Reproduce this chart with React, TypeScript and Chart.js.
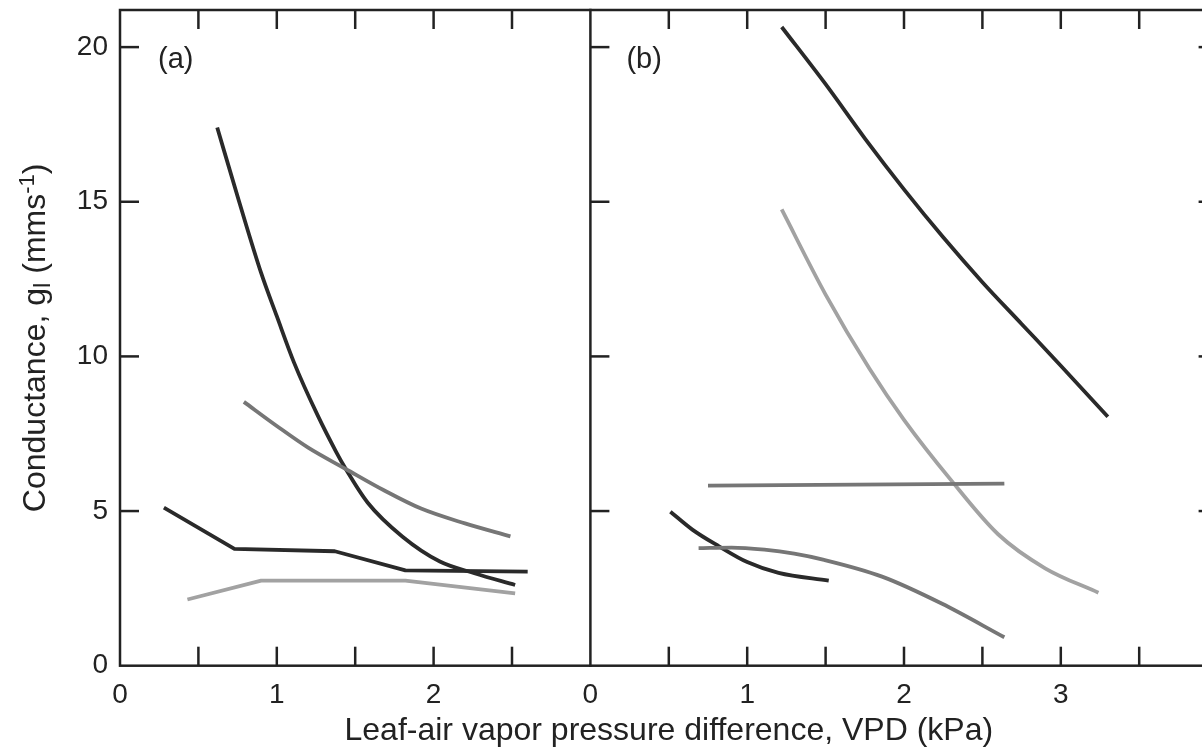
import { useEffect, useRef } from 'react';
import { Chart, registerables } from 'chart.js';

Chart.register(...registerables);

const FONT = "'Liberation Sans', Arial, Helvetica, sans-serif";
const INK = '#222222';
const DARK = '#2a2a2a';
const MID = '#767676';
const LIGHT = '#a2a2a2';

// Panel (b) is drawn on the same VPD axis, shifted right by this amount
const PANEL_B_OFFSET = 3;
const X_MAX = 7;
const Y_MAX = 21.2;

// ---- Panel (a) ----
const a1X = [0.62, 0.76, 0.9, 1.0, 1.11, 1.26, 1.38, 1.44, 1.58, 1.8, 2.04, 2.26, 2.52];
const a1Y = [17.4, 15.0, 12.7, 11.3, 9.8, 8.1, 6.9, 6.36, 5.27, 4.18, 3.37, 2.99, 2.61];

const a2X = [0.79, 1.0, 1.2, 1.44, 1.68, 1.92, 2.2, 2.49];
const a2Y = [8.53, 7.75, 7.05, 6.36, 5.68, 5.08, 4.6, 4.18];

const a3X = [0.28, 0.73, 1.37, 1.82, 2.6];
const a3Y = [5.11, 3.78, 3.7, 3.08, 3.04];

const a4X = [0.43, 0.9, 1.82, 2.52];
const a4Y = [2.14, 2.75, 2.75, 2.34];

// ---- Panel (b) ----
const b1X = [1.22, 1.5, 1.75, 2.0, 2.25, 2.5, 2.75, 3.0, 3.3];
const b1Y = [20.65, 18.8, 17.05, 15.4, 13.85, 12.4, 11.05, 9.7, 8.05];

const b2X = [1.22, 1.5, 1.78, 2.0, 2.3, 2.6, 2.9, 3.24];
const b2Y = [14.75, 12.0, 9.6, 7.95, 6.0, 4.25, 3.15, 2.36];

const b3X = [0.75, 2.64];
const b3Y = [5.82, 5.89];

const b4X = [0.51, 0.65, 0.82, 1.0, 1.2, 1.52];
const b4Y = [4.98, 4.4, 3.86, 3.35, 3.0, 2.75];

const b5X = [0.69, 0.9, 1.11, 1.3, 1.49, 1.86, 2.24, 2.64];
const b5Y = [3.8, 3.82, 3.75, 3.62, 3.42, 2.88, 2.01, 0.92];

// ---- Axes ----
const xTickLabelsA = ['0', '1', '2'];
const xTickLabelsB = ['0', '1', '2', '3'];
const xMinorTicksA = [0.5, 1, 1.5, 2, 2.5];
const xMinorTicksB = [0.5, 1, 1.5, 2, 2.5, 3, 3.5];
const yTickValues = [0, 5, 10, 15, 20];
const panelLabels = ['(a)', '(b)'];
const xTitle = 'Leaf-air vapor pressure difference, VPD (kPa)';

const toPts = (xs: number[], ys: number[], off = 0) => xs.map((x, i) => ({ x: x + off, y: ys[i] }));

function ds(data: { x: number; y: number }[], color: string, smooth: boolean, width = 3.8) {
  return {
    data,
    borderColor: color,
    borderWidth: width,
    pointRadius: 0,
    fill: false,
    tension: 0,
    borderJoinStyle: 'round',
    cubicInterpolationMode: smooth ? 'monotone' : 'default',
  } as any;
}

const framePlugin = {
  id: 'frame',
  afterDatasetsDraw(chart: any) {
    const { ctx, chartArea, scales } = chart;
    const { left, right, top, bottom } = chartArea;
    const x = scales.x;
    const y = scales.y;
    const TL = 19;
    const line = (x1: number, y1: number, x2: number, y2: number) => {
      ctx.beginPath();
      ctx.moveTo(x1, y1);
      ctx.lineTo(x2, y2);
      ctx.stroke();
    };
    ctx.save();
    ctx.strokeStyle = INK;
    ctx.lineWidth = 2.5;
    ctx.lineCap = 'square';
    ctx.strokeRect(left, top, right - left, bottom - top);
    const xd = x.getPixelForValue(PANEL_B_OFFSET);
    line(xd, top, xd, bottom);
    ctx.lineCap = 'butt';
    const xs = [...xMinorTicksA, ...xMinorTicksB.map((v) => v + PANEL_B_OFFSET)];
    for (const v of xs) {
      const px = x.getPixelForValue(v);
      line(px, bottom, px, bottom - TL);
      line(px, top, px, top + TL);
    }
    for (const v of yTickValues) {
      if (v === 0) continue;
      const py = y.getPixelForValue(v);
      line(left, py, left + TL, py);
      line(xd, py, xd + TL, py);
      line(right, py, right - TL, py);
    }
    // panel letters
    ctx.fillStyle = INK;
    ctx.font = `29px ${FONT}`;
    ctx.textBaseline = 'middle';
    ctx.textAlign = 'left';
    ctx.fillText(panelLabels[0], left + 38, 60);
    ctx.fillText(panelLabels[1], xd + 36, 60);

    // y title with subscript / superscript
    const parts: [string, number, number][] = [
      ['Conductance, g', 32, 0],
      ['l', 24, 5],
      [' (mms', 32, 0],
      ['-1', 22, -11],
      [')', 32, 0],
    ];
    let total = 0;
    for (const [t, s] of parts) {
      ctx.font = `${s}px ${FONT}`;
      total += ctx.measureText(t).width;
    }
    ctx.translate(45, (top + bottom) / 2);
    ctx.rotate(-Math.PI / 2);
    ctx.textBaseline = 'alphabetic';
    let cx = -total / 2;
    for (const [t, s, dy] of parts) {
      ctx.font = `${s}px ${FONT}`;
      ctx.fillText(t, cx, dy);
      cx += ctx.measureText(t).width;
    }
    ctx.restore();
  },
};

export default function App() {
  const ref = useRef<HTMLCanvasElement>(null);
  useEffect(() => {
    if (!ref.current) return;
    const chart = new Chart(ref.current, {
      type: 'line',
      data: {
        datasets: [
          ds(toPts(a2X, a2Y), MID, true),
          ds(toPts(a4X, a4Y), LIGHT, false),
          ds(toPts(a3X, a3Y), DARK, false),
          ds(toPts(a1X, a1Y), DARK, true),
          ds(toPts(b3X, b3Y, PANEL_B_OFFSET), MID, false),
          ds(toPts(b5X, b5Y, PANEL_B_OFFSET), MID, true),
          ds(toPts(b2X, b2Y, PANEL_B_OFFSET), LIGHT, true),
          ds(toPts(b4X, b4Y, PANEL_B_OFFSET), DARK, true),
          ds(toPts(b1X, b1Y, PANEL_B_OFFSET), DARK, true),
        ],
      },
      options: {
        responsive: false,
        maintainAspectRatio: false,
        animation: false,
        devicePixelRatio: 1,
        layout: { padding: { left: 0, right: 22.4, top: 10, bottom: 0 } },
        plugins: { legend: { display: false }, tooltip: { enabled: false } },
        scales: {
          x: {
            type: 'linear',
            min: 0,
            max: X_MAX,
            grid: { display: false, drawTicks: false },
            border: { display: false },
            ticks: {
              stepSize: 1,
              autoSkip: false,
              maxRotation: 0,
              padding: 13,
              color: INK,
              font: { family: FONT, size: 28 },
              callback: (v: any) => {
                const n = Number(v);
                if (n < PANEL_B_OFFSET) return xTickLabelsA[n] ?? '';
                return xTickLabelsB[n - PANEL_B_OFFSET] ?? '';
              },
            },
            title: {
              display: true,
              text: xTitle,
              color: INK,
              font: { family: FONT, size: 32 },
              padding: { top: 0, bottom: 1 },
            },
            afterFit: (s: any) => {
              s.height = 85.3;
              s.paddingLeft = 0;
              s.paddingRight = 0;
            },
          },
          y: {
            min: 0,
            max: Y_MAX,
            grid: { display: false, drawTicks: false },
            border: { display: false },
            ticks: {
              stepSize: 5,
              includeBounds: false,
              padding: 12,
              color: INK,
              font: { family: FONT, size: 28 },
              callback: (v: any) => (yTickValues.includes(Number(v)) ? String(v) : ''),
            },
            afterFit: (s: any) => {
              s.width = 120;
              s.paddingTop = 0;
              s.paddingBottom = 0;
            },
          },
        },
      },
      plugins: [framePlugin],
    } as any);
    return () => chart.destroy();
  }, []);
  return (
    <div
      style={{
        position: 'fixed',
        left: 0,
        top: 0,
        width: 1202,
        height: 751,
        overflow: 'hidden',
        background: '#ffffff',
      }}
    >
      <canvas ref={ref} width={1240} height={751} style={{ display: 'block' }} />
    </div>
  );
}
